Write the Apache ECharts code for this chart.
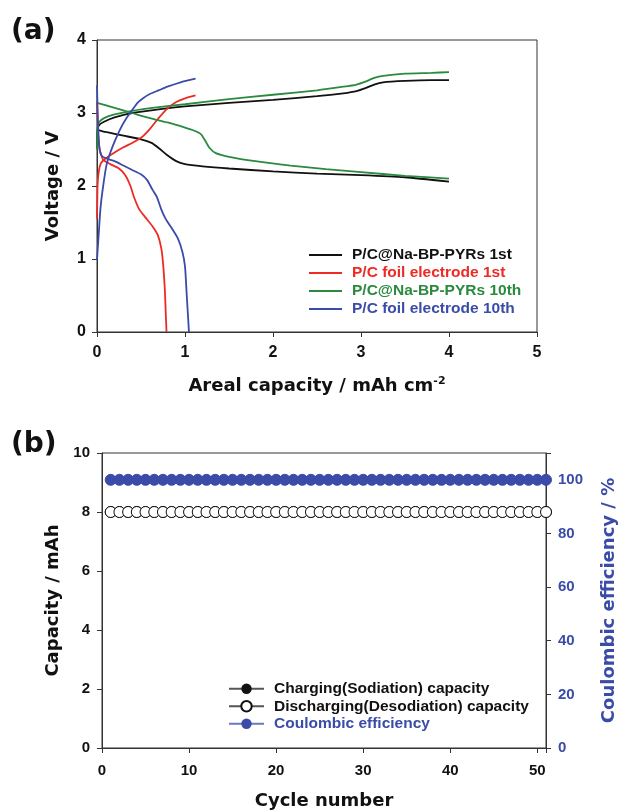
<!DOCTYPE html>
<html>
<head>
<meta charset="utf-8">
<script src="https://cdn.jsdelivr.net/npm/echarts@6/dist/echarts.min.js"></script>
<style>
  html, body { margin: 0; padding: 0; background: #fff; }
  #chart { width: 619px; height: 811px; }
</style>
</head>
<body>
<div id="chart"></div>
<script>
// --- panel (a): voltage profiles, [capacity, voltage] ---
const blackCharge = [[0,2.52],[0.005,2.75],[0.02,2.83],[0.08,2.88],[0.2,2.94],[0.4,3.0],[0.7,3.05],[1.0,3.09],[1.5,3.14],[2.0,3.18],[2.5,3.23],[2.8,3.27],[2.95,3.3],[3.05,3.34],[3.15,3.39],[3.25,3.42],[3.5,3.44],[3.8,3.45],[4.0,3.45]];
const blackDischarge = [[0,2.77],[0.1,2.74],[0.3,2.69],[0.5,2.64],[0.62,2.59],[0.7,2.52],[0.8,2.42],[0.9,2.34],[1.0,2.3],[1.2,2.27],[1.5,2.24],[2.0,2.2],[2.5,2.17],[3.0,2.15],[3.5,2.12],[4.0,2.06]];
const greenCharge = [[0,2.5],[0.005,2.78],[0.02,2.87],[0.08,2.93],[0.2,2.98],[0.4,3.03],[0.7,3.08],[1.0,3.12],[1.5,3.19],[2.0,3.25],[2.5,3.31],[2.8,3.36],[2.95,3.39],[3.05,3.43],[3.15,3.48],[3.25,3.51],[3.5,3.54],[3.8,3.55],[4.0,3.56]];
const greenDischarge = [[0,3.14],[0.2,3.07],[0.4,3.0],[0.6,2.93],[0.8,2.87],[1.0,2.8],[1.1,2.76],[1.18,2.71],[1.23,2.62],[1.28,2.52],[1.35,2.45],[1.5,2.4],[1.8,2.34],[2.2,2.28],[2.6,2.23],[3.0,2.19],[3.5,2.14],[4.0,2.1]];
const redCharge = [[0,1.55],[0.005,1.95],[0.015,2.15],[0.04,2.3],[0.1,2.38],[0.2,2.46],[0.3,2.53],[0.4,2.59],[0.5,2.66],[0.6,2.78],[0.7,2.93],[0.8,3.06],[0.9,3.15],[1.0,3.2],[1.12,3.24]];
const redDischarge = [[0,3.15],[0.01,2.8],[0.03,2.5],[0.07,2.36],[0.15,2.3],[0.25,2.24],[0.32,2.15],[0.38,2.0],[0.42,1.85],[0.48,1.68],[0.55,1.57],[0.63,1.45],[0.69,1.33],[0.73,1.15],[0.75,0.95],[0.77,0.6],[0.78,0.3],[0.79,0]];
const blueCharge = [[0,0.99],[0.02,1.35],[0.04,1.7],[0.07,2.0],[0.11,2.3],[0.18,2.55],[0.26,2.77],[0.33,2.92],[0.4,3.04],[0.46,3.14],[0.52,3.2],[0.6,3.26],[0.7,3.31],[0.8,3.36],[0.95,3.42],[1.12,3.47]];
const blueDischarge = [[0,3.38],[0.01,2.9],[0.025,2.55],[0.05,2.42],[0.1,2.38],[0.2,2.34],[0.3,2.28],[0.4,2.22],[0.5,2.16],[0.57,2.08],[0.63,1.95],[0.68,1.85],[0.73,1.68],[0.78,1.55],[0.85,1.42],[0.92,1.28],[0.97,1.1],[1.0,0.9],[1.02,0.5],[1.035,0.2],[1.045,0]];

const curveNames = ['P/C@Na-BP-PYRs 1st', 'P/C foil electrode 1st', 'P/C@Na-BP-PYRs 10th', 'P/C foil electrode 10th'];

// --- panel (b): cycling ---
const cycles = [1,2,3,4,5,6,7,8,9,10,11,12,13,14,15,16,17,18,19,20,21,22,23,24,25,26,27,28,29,30,31,32,33,34,35,36,37,38,39,40,41,42,43,44,45,46,47,48,49,50,51];
const chargeCap = [8,8,8,8,8,8,8,8,8,8,8,8,8,8,8,8,8,8,8,8,8,8,8,8,8,8,8,8,8,8,8,8,8,8,8,8,8,8,8,8,8,8,8,8,8,8,8,8,8,8,8];
const dischargeCap = [8,8,8,8,8,8,8,8,8,8,8,8,8,8,8,8,8,8,8,8,8,8,8,8,8,8,8,8,8,8,8,8,8,8,8,8,8,8,8,8,8,8,8,8,8,8,8,8,8,8,8];
const coulombEff = [100,100,100,100,100,100,100,100,100,100,100,100,100,100,100,100,100,100,100,100,100,100,100,100,100,100,100,100,100,100,100,100,100,100,100,100,100,100,100,100,100,100,100,100,100,100,100,100,100,100,100];
const cycleNames = ['Charging(Sodiation) capacity', 'Discharging(Desodiation) capacity', 'Coulombic efficiency'];

const BLACK = '#111111', RED = '#ee2a24', GREEN = '#2a8a3e', BLUE = '#3a4ca8';
const AXIS = '#333333';
const tickFont = { color: '#111', fontWeight: 'bold', fontFamily: 'Liberation Sans', fontSize: 16 };
const titleFont = { color: '#111', fontWeight: 'bold', fontFamily: 'DejaVu Sans', fontSize: 18 };
const panelFont = { fontFamily: 'DejaVu Sans', fontWeight: 'bold', fontSize: 28, color: '#111' };
const legendFont = { fontFamily: 'Liberation Sans', fontWeight: 'bold', fontSize: 15.5, padding: [0, 0, 0, 5] };

function pair(a, b) { return a.map((v, i) => [v, b[i]]); }

function curve(name, color, data) {
  return {
    name, type: 'line', xAxisIndex: 0, yAxisIndex: 0, data,
    symbol: 'none', smooth: 0.2,
    lineStyle: { color, width: 1.8 }, itemStyle: { color }
  };
}

const chart = echarts.init(document.getElementById('chart'));

chart.setOption({
  animation: false,
  backgroundColor: '#fff',
  title: [
    { text: '(a)', left: 11, top: 18, padding: 0, textStyle: panelFont },
    { text: '(b)', left: 11, top: 431, padding: 0, textStyle: panelFont }
  ],
  grid: [
    { left: 97, top: 40, width: 440, height: 292, show: true, borderColor: AXIS, borderWidth: 1, outerBoundsMode: 'none', containLabel: false },
    { left: 102, top: 453, width: 444, height: 295, show: true, borderColor: AXIS, borderWidth: 1, outerBoundsMode: 'none', containLabel: false }
  ],
  legend: [
    {
      orient: 'vertical', left: 309, top: 246, padding: 0, icon: 'rect',
      itemWidth: 33, itemHeight: 2, itemGap: 0,
      data: [
        { name: curveNames[0], textStyle: { color: BLACK } },
        { name: curveNames[1], textStyle: { color: RED } },
        { name: curveNames[2], textStyle: { color: GREEN } },
        { name: curveNames[3], textStyle: { color: BLUE } }
      ],
      textStyle: Object.assign({ lineHeight: 18 }, legendFont)
    },
    {
      orient: 'vertical', left: 228, top: 680, padding: 0,
      itemWidth: 35, itemHeight: 13, itemGap: 0,
      data: [
        { name: cycleNames[0], textStyle: { color: BLACK } },
        { name: cycleNames[1], textStyle: { color: BLACK } },
        { name: cycleNames[2], textStyle: { color: BLUE } }
      ],
      textStyle: Object.assign({ lineHeight: 17.5 }, legendFont)
    }
  ],
  xAxis: [
    {
      gridIndex: 0, type: 'value', min: 0, max: 5, interval: 1,
      name: 'Areal capacity / mAh cm{sup|-2}', nameLocation: 'middle', nameGap: 44,
      nameTextStyle: Object.assign({}, titleFont, { rich: { sup: { fontFamily: 'DejaVu Sans', fontWeight: 'bold', fontSize: 11, color: '#111', verticalAlign: 'top', padding: [0, 0, 10, 0] } } }),
      axisLine: { lineStyle: { color: AXIS } },
      axisTick: { inside: false, length: 5, lineStyle: { color: AXIS } },
      axisLabel: Object.assign({ margin: 13 }, tickFont),
      splitLine: { show: false }
    },
    {
      gridIndex: 1, type: 'value', min: 0, max: 51, interval: 10,
      name: 'Cycle number', nameLocation: 'middle', nameGap: 44, nameTextStyle: titleFont,
      axisLine: { lineStyle: { color: AXIS } },
      axisTick: { length: 5, lineStyle: { color: AXIS } },
      axisLabel: Object.assign({ margin: 15, formatter: v => (v % 10 === 0 ? v : '') }, tickFont, { fontSize: 15 }),
      splitLine: { show: false }
    }
  ],
  yAxis: [
    {
      gridIndex: 0, type: 'value', min: 0, max: 4, interval: 1,
      name: 'Voltage / V', nameLocation: 'middle', nameGap: 35, nameTextStyle: titleFont,
      axisLine: { show: true, lineStyle: { color: AXIS } },
      axisTick: { show: true, length: 5, lineStyle: { color: AXIS } },
      axisLabel: Object.assign({ margin: 11 }, tickFont),
      splitLine: { show: false }
    },
    {
      gridIndex: 1, type: 'value', min: 0, max: 10, interval: 2,
      name: 'Capacity / mAh', nameLocation: 'middle', nameGap: 36, nameTextStyle: titleFont,
      axisLine: { show: true, lineStyle: { color: AXIS } },
      axisTick: { show: true, length: 5, lineStyle: { color: AXIS } },
      axisLabel: Object.assign({ margin: 12 }, tickFont, { fontSize: 15 }),
      splitLine: { show: false }
    },
    {
      gridIndex: 1, type: 'value', position: 'right', min: 0, max: 110, interval: 20,
      name: 'Coulombic efficiency / %', nameLocation: 'middle', nameGap: 54,
      nameTextStyle: Object.assign({}, titleFont, { color: BLUE }),
      axisLine: { show: true, lineStyle: { color: AXIS } },
      axisTick: { show: true, length: 5, lineStyle: { color: AXIS } },
      axisLabel: Object.assign({ margin: 12 }, tickFont, { fontSize: 15, color: BLUE, formatter: v => (v % 20 === 0 ? v : '') }),
      splitLine: { show: false }
    }
  ],
  series: [
    curve(curveNames[0], BLACK, blackCharge),
    curve(curveNames[0], BLACK, blackDischarge),
    curve(curveNames[1], RED, redCharge),
    curve(curveNames[1], RED, redDischarge),
    curve(curveNames[2], GREEN, greenCharge),
    curve(curveNames[2], GREEN, greenDischarge),
    curve(curveNames[3], BLUE, blueCharge),
    curve(curveNames[3], BLUE, blueDischarge),
    {
      name: cycleNames[0], type: 'line', xAxisIndex: 1, yAxisIndex: 1,
      data: pair(cycles, chargeCap), symbol: 'circle', symbolSize: 11,
      lineStyle: { color: '#555', width: 1 }, itemStyle: { color: BLACK, borderColor: BLACK }
    },
    {
      name: cycleNames[1], type: 'line', xAxisIndex: 1, yAxisIndex: 1,
      data: pair(cycles, dischargeCap), symbol: 'circle', symbolSize: 11,
      lineStyle: { color: '#555', width: 1 }, itemStyle: { color: '#fff', borderColor: BLACK, borderWidth: 1 }
    },
    {
      name: cycleNames[2], type: 'line', xAxisIndex: 1, yAxisIndex: 2,
      data: pair(cycles, coulombEff), symbol: 'circle', symbolSize: 11,
      lineStyle: { color: '#6a78c4', width: 1 }, itemStyle: { color: BLUE, borderColor: BLUE }
    }
  ]
});
</script>
</body>
</html>
